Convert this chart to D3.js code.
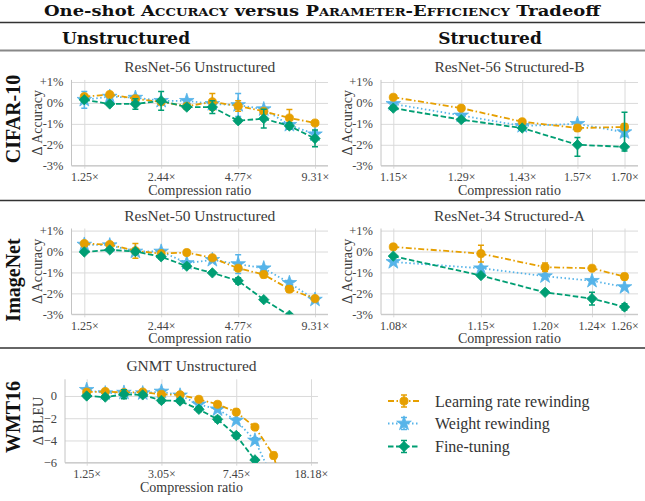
<!DOCTYPE html>
<html>
<head>
<meta charset="utf-8">
<script src="https://cdn.jsdelivr.net/npm/d3@7"></script>
<style>
  body { margin: 0; background: #fff; }
  text { font-family: "Liberation Serif", "Times New Roman", serif; }
</style>
</head>
<body>
<div id="chart"></div>
<script>
// compression ratios (x values)
const xUnstr = [1.25, 1.56, 1.95, 2.44, 3.05, 3.81, 4.77, 5.96, 7.45, 9.31];
const xStrB = [1.15, 1.29, 1.43, 1.57, 1.70];
const xStrA = [1.08, 1.145, 1.195, 1.233, 1.26];
const xGnmt = [1.25, 1.56, 1.95, 2.44, 3.05, 3.81, 4.77, 5.96, 7.45, 9.31, 11.64, 14.55];

// tick values and labels
const tickUnstr = [1.25, 2.44, 4.77, 9.31];
const tickUnstrLbl = ["1.25×", "2.44×", "4.77×", "9.31×"];
const tickStrB = [1.15, 1.29, 1.43, 1.57, 1.70];
const tickStrBLbl = ["1.15×", "1.29×", "1.43×", "1.57×", "1.70×"];
const tickStrA = [1.08, 1.145, 1.195, 1.233, 1.26];
const tickStrALbl = ["1.08×", "1.15×", "1.20×", "1.24×", "1.26×"];
const tickGnmt = [1.25, 3.05, 7.45, 18.18];
const tickGnmtLbl = ["1.25×", "3.05×", "7.45×", "18.18×"];
const tickAcc = [1, 0, -1, -2, -3];
const tickAccLbl = ["+1%", "0%", "-1%", "-2%", "-3%"];
const tickBleu = [0, -2, -4, -6];
const tickBleuLbl = ["0", "\u22122", "\u22124", "\u22126"];

// ResNet-56 unstructured (CIFAR-10)
const r56uLR = [0.3, 0.4, 0.2, 0.05, -0.16, 0.05, -0.15, -0.4, -0.72, -0.96];
const r56uLRErr = [0.08, 0.05, 0.1, 0.1, 0.1, 0.4, 0.25, 0.1, 0.4, 0.05];
const r56uWR = [0.15, 0.3, 0.25, 0.1, 0.1, -0.05, -0.1, -0.3, -1.05, -1.5];
const r56uWRErr = [0.4, 0.05, 0.1, 0.1, 0.08, 0.1, 0.55, 0.08, 0.1, 0.15];
const r56uFT = [0.15, -0.05, -0.05, 0.1, -0.2, -0.2, -0.85, -0.75, -1.1, -1.7];
const r56uFTErr = [0.1, 0.05, 0.25, 0.45, 0.1, 0.3, 0.1, 0.45, 0.15, 0.4];

// ResNet-56 structured-B (CIFAR-10)
const r56sLR = [0.27, -0.25, -0.9, -1.2, -1.15];
const r56sLRErr = [0.05, 0.05, 0.05, 0.15, 0.15];
const r56sWR = [-0.05, -0.6, -1.1, -1.0, -1.4];
const r56sWRErr = [0.05, 0.05, 0.05, 0.05, 0.2];
const r56sFT = [-0.25, -0.8, -1.2, -2.0, -2.1];
const r56sFTErr = [0.1, 0.08, 0.1, [0.55, 0.35], [0.2, 1.65]];

// ResNet-50 unstructured (ImageNet)
const r50uLR = [0.38, 0.33, 0.03, -0.1, -0.05, -0.3, -0.8, -1.1, -1.8, -2.25];
const r50uLRErr = [0.05, 0.05, 0.35, 0.08, 0.1, 0.08, 0.1, 0.15, 0.15, 0.05];
const r50uWR = [0.33, 0.3, 0.0, 0.0, -0.55, -0.4, -0.6, -0.8, -1.5, -2.3];
const r50uWRErr = [0.05, 0.05, 0.05, 0.1, 0.1, 0.08, 0.45, 0.1, 0.12, 0.08];
const r50uFT = [-0.02, 0.08, 0.0, -0.25, -0.7, -1.02, -1.4, -2.3, -3.05, -3.9];
const r50uFTErr = [0.05, 0.05, 0.1, 0.1, 0.1, 0.05, 0.15, 0.08, 0.08, 0.1];

// ResNet-34 structured-A (ImageNet)
const r34sLR = [0.22, -0.1, -0.75, -0.8, -1.2];
const r34sLRErr = [0.05, 0.4, 0.2, 0.05, 0.15];
const r34sWR = [-0.5, -0.8, -1.18, -1.4, -1.7];
const r34sWRErr = [0.05, 0.1, 0.1, 0.08, 0.08];
const r34sFT = [-0.22, -1.15, -1.95, -2.25, -2.65];
const r34sFTErr = [0.05, 0.08, 0.05, 0.3, 0.15];

// GNMT unstructured (WMT16), delta BLEU
const gnmtLR = [0.35, 0.4, 0.3, 0.35, 0.15, 0.1, -0.3, -0.75, -1.45, -2.8, -5.35, -12];
const gnmtLRErr = [0.2, 0.15, 0.15, 0.15, 0.15, 0.1, 0.1, 0.2, 0.25, 0.2, 0.3, 0.3];
const gnmtWR = [0.55, 0.25, 0.3, 0.25, 0.4, 0.05, -0.75, -1.2, -2.2, -4.0, -7.6];
const gnmtWRErr = [0.2, 0.2, 0.2, 0.15, 0.2, 0.15, 0.2, 0.2, 0.2, 0.25, 0.3];
const gnmtFT = [0.0, -0.1, 0.15, 0.1, -0.4, -0.45, -1.2, -2.1, -3.55, -5.75, -9.0];
const gnmtFTErr = [0.15, 0.15, 0.4, 0.15, 0.2, 0.2, 0.2, 0.25, 0.25, 0.2, 0.3];

const width = 645, height = 501;
const orange = "#E69F00", blue = "#56B4E9", green = "#009E73";
const styles = {
  lr: { color: orange, dash: "6,2.5,1.5,2.5", marker: "circle" },
  wr: { color: blue, dash: "1.5,2.5", marker: "star" },
  ft: { color: green, dash: "5.5,2.5", marker: "diamond" }
};

const svg = d3.select("#chart")
  .append("svg")
  .attr("width", width)
  .attr("height", height);

function markerPath(kind) {
  if (kind === "circle") return d3.symbol().type(d3.symbolCircle).size(52)();
  if (kind === "star") return d3.symbol().type(d3.symbolStar).size(66)();
  // square rotated 45 degrees
  const r = 5.2;
  return `M0,${-r}L${r},0L0,${r}L${-r},0Z`;
}

function drawSeries(g, x, y, xs, vals, errs, st) {
  const pts = vals.map((v, i) => {
    const e = errs[i];
    const lo = Array.isArray(e) ? e[0] : e;
    const hi = Array.isArray(e) ? e[1] : e;
    return { x: xs[i], v: v, lo: lo, hi: hi };
  });
  g.append("path")
    .datum(pts)
    .attr("d", d3.line().x(p => x(p.x)).y(p => y(p.v)))
    .attr("fill", "none")
    .attr("stroke", st.color)
    .attr("stroke-width", 1.8)
    .attr("stroke-dasharray", st.dash);
  const eb = g.selectAll(null).data(pts).enter().append("g")
    .attr("stroke", st.color)
    .attr("stroke-width", 1.5);
  eb.append("line")
    .attr("x1", p => x(p.x)).attr("x2", p => x(p.x))
    .attr("y1", p => y(p.v - p.lo)).attr("y2", p => y(p.v + p.hi));
  eb.append("line")
    .attr("x1", p => x(p.x) - 3).attr("x2", p => x(p.x) + 3)
    .attr("y1", p => y(p.v - p.lo)).attr("y2", p => y(p.v - p.lo));
  eb.append("line")
    .attr("x1", p => x(p.x) - 3).attr("x2", p => x(p.x) + 3)
    .attr("y1", p => y(p.v + p.hi)).attr("y2", p => y(p.v + p.hi));
  g.selectAll(null).data(pts).enter().append("path")
    .attr("d", markerPath(st.marker))
    .attr("transform", p => `translate(${x(p.x)},${y(p.v)})`)
    .attr("fill", st.color)
    .attr("stroke", st.color)
    .attr("stroke-width", 0.8);
}

let clipId = 0;
function panel(cfg) {
  const g = svg.append("g");
  const x = d3.scaleLog().domain([cfg.xt[0], cfg.xt[cfg.xt.length - 1]]).range(cfg.xr);
  const y = d3.scaleLinear().domain(cfg.yd).range([cfg.bottom, cfg.top]);
  const w = cfg.right - cfg.left, h = cfg.bottom - cfg.top;

  // x axis + vertical grid
  g.append("g")
    .attr("transform", `translate(0,${cfg.bottom})`)
    .call(d3.axisBottom(x).tickValues(cfg.xt).tickFormat((d, i) => cfg.xl[i]).tickSizeOuter(0).tickPadding(1))
    .call(a => a.select(".domain").remove())
    .call(a => a.selectAll(".tick line").attr("y1", 3).attr("y2", -h).attr("stroke", "#dadada").attr("stroke-width", 1))
    .call(a => a.selectAll(".tick text").attr("fill", "#444").style("font-size", "12px")
      .style("font-family", "'Liberation Serif', serif"));

  // y axis + horizontal grid
  g.append("g")
    .attr("transform", `translate(${cfg.left},0)`)
    .call(d3.axisLeft(y).tickValues(cfg.yt).tickFormat((d, i) => cfg.yl[i]).tickSizeOuter(0).tickPadding(2))
    .call(a => a.select(".domain").remove())
    .call(a => a.selectAll(".tick line").attr("x1", 0).attr("x2", w).attr("stroke", "#dadada").attr("stroke-width", 1))
    .call(a => a.selectAll(".tick text").attr("fill", "#444").style("font-size", "12.5px")
      .style("font-family", "'Liberation Serif', serif"));

  // spines
  g.append("line").attr("x1", cfg.left).attr("x2", cfg.left).attr("y1", cfg.top).attr("y2", cfg.bottom)
    .attr("stroke", "#c4c4c4").attr("stroke-width", 1);
  g.append("line").attr("x1", cfg.left).attr("x2", cfg.right).attr("y1", cfg.bottom).attr("y2", cfg.bottom)
    .attr("stroke", "#c4c4c4").attr("stroke-width", 1);

  const id = "clip" + (clipId++);
  svg.append("clipPath").attr("id", id)
    .append("rect").attr("x", cfg.left).attr("y", cfg.top).attr("width", w).attr("height", h);
  const data = g.append("g").attr("clip-path", `url(#${id})`);
  cfg.series.forEach(s => drawSeries(data, x, y, cfg.xs, s.vals, s.errs, styles[s.key]));

  // title and labels
  g.append("text").attr("x", (cfg.left + cfg.right) / 2).attr("y", cfg.top - 8)
    .attr("text-anchor", "middle").attr("fill", "#3a3a3a").style("font-size", "15.5px")
    .text(cfg.title);
  g.append("text").attr("x", (cfg.left + cfg.right) / 2).attr("y", cfg.bottom + 29)
    .attr("text-anchor", "middle").attr("fill", "#3a3a3a").style("font-size", "14px")
    .text("Compression ratio");
  g.append("text")
    .attr("transform", `translate(${cfg.left - cfg.ylabOff},${(cfg.top + cfg.bottom) / 2}) rotate(-90)`)
    .attr("text-anchor", "middle").attr("dy", "0.35em").attr("fill", "#3a3a3a").style("font-size", "14px")
    .text(cfg.ylab);
}

const accRow1 = { top: 79.9, bottom: 165.7, yd: [-3, 1.1], yt: tickAcc, yl: tickAccLbl, ylab: "\u0394 Accuracy", ylabOff: 34 };
const accRow2 = { top: 228.5, bottom: 314.3, yd: [-3, 1.1], yt: tickAcc, yl: tickAccLbl, ylab: "\u0394 Accuracy", ylabOff: 34 };

// blue first, orange over it, green on top
panel(Object.assign({}, accRow1, {
  left: 71.5, right: 328, xr: [84.3, 315], xt: tickUnstr, xl: tickUnstrLbl, xs: xUnstr,
  title: "ResNet-56 Unstructured",
  series: [{ key: "wr", vals: r56uWR, errs: r56uWRErr }, { key: "lr", vals: r56uLR, errs: r56uLRErr }, { key: "ft", vals: r56uFT, errs: r56uFTErr }]
}));
panel(Object.assign({}, accRow1, {
  left: 381, right: 638, xr: [393.3, 624.5], xt: tickStrB, xl: tickStrBLbl, xs: xStrB,
  title: "ResNet-56 Structured-B",
  series: [{ key: "wr", vals: r56sWR, errs: r56sWRErr }, { key: "lr", vals: r56sLR, errs: r56sLRErr }, { key: "ft", vals: r56sFT, errs: r56sFTErr }]
}));
panel(Object.assign({}, accRow2, {
  left: 71.5, right: 328, xr: [84.3, 315], xt: tickUnstr, xl: tickUnstrLbl, xs: xUnstr,
  title: "ResNet-50 Unstructured",
  series: [{ key: "wr", vals: r50uWR, errs: r50uWRErr }, { key: "lr", vals: r50uLR, errs: r50uLRErr }, { key: "ft", vals: r50uFT, errs: r50uFTErr }]
}));
panel(Object.assign({}, accRow2, {
  left: 381, right: 638, xr: [393.3, 624.5], xt: tickStrA, xl: tickStrALbl, xs: xStrA,
  title: "ResNet-34 Structured-A",
  series: [{ key: "wr", vals: r34sWR, errs: r34sWRErr }, { key: "lr", vals: r34sLR, errs: r34sLRErr }, { key: "ft", vals: r34sFT, errs: r34sFTErr }]
}));
panel({
  top: 379.3, bottom: 462.7, yd: [-6, 1.5], yt: tickBleu, yl: tickBleuLbl, ylab: "\u0394 BLEU", ylabOff: 27,
  left: 65, right: 318, xr: [86.7, 311], xt: tickGnmt, xl: tickGnmtLbl, xs: xGnmt,
  title: "GNMT Unstructured",
  series: [{ key: "wr", vals: gnmtWR, errs: gnmtWRErr }, { key: "lr", vals: gnmtLR, errs: gnmtLRErr }, { key: "ft", vals: gnmtFT, errs: gnmtFTErr }]
});

// header
const title = svg.append("text").attr("x", 322).attr("y", 16).attr("text-anchor", "middle")
  .attr("fill", "#111").style("font-size", "15px").style("font-weight", "bold")
  .style("font-family", "'DejaVu Serif', serif")
  .attr("textLength", 556).attr("lengthAdjust", "spacingAndGlyphs");
title.append("tspan").text("One-shot ");
title.append("tspan").style("font-variant", "small-caps").text("Accuracy");
title.append("tspan").text(" versus ");
title.append("tspan").style("font-variant", "small-caps").text("Parameter-Efficiency");
title.append("tspan").text(" Tradeoff");

svg.append("line").attr("x1", 0).attr("x2", width).attr("y1", 22.5).attr("y2", 22.5)
  .attr("stroke", "#333").attr("stroke-width", 1.6);
svg.append("line").attr("x1", 0).attr("x2", width).attr("y1", 50.5).attr("y2", 50.5)
  .attr("stroke", "#888").attr("stroke-width", 2);
svg.append("line").attr("x1", 0).attr("x2", width).attr("y1", 200.5).attr("y2", 200.5)
  .attr("stroke", "#333").attr("stroke-width", 1.6);
svg.append("line").attr("x1", 0).attr("x2", width).attr("y1", 348).attr("y2", 348)
  .attr("stroke", "#333").attr("stroke-width", 1.6);

const colHeads = ["Unstructured", "Structured"];
const colX = [126, 490];
svg.selectAll(null).data(colHeads).enter().append("text")
  .attr("x", (d, i) => colX[i]).attr("y", 43.5).attr("text-anchor", "middle")
  .attr("fill", "#111").style("font-size", "17px").style("font-weight", "bold")
  .style("font-family", "'DejaVu Serif', serif")
  .text(d => d);

const rowHeads = ["CIFAR-10", "ImageNet", "WMT16"];
const rowY = [119, 280, 417];
svg.selectAll(null).data(rowHeads).enter().append("text")
  .attr("transform", (d, i) => `translate(13,${rowY[i]}) rotate(-90)`)
  .attr("text-anchor", "middle").attr("dy", "0.35em")
  .attr("fill", "#111").style("font-size", "20px").style("font-weight", "bold")
  .text(d => d);

// legend
const legendNames = ["Learning rate rewinding", "Weight rewinding", "Fine-tuning"];
const legendKeys = ["lr", "wr", "ft"];
const legendY = [401, 423.5, 446.5];
const lg = svg.append("g");
legendKeys.forEach((k, i) => {
  const st = styles[k];
  const yy = legendY[i];
  lg.append("line").attr("x1", 388).attr("x2", 420).attr("y1", yy).attr("y2", yy)
    .attr("stroke", st.color).attr("stroke-width", 1.8).attr("stroke-dasharray", st.dash);
  lg.append("line").attr("x1", 404).attr("x2", 404).attr("y1", yy - 6).attr("y2", yy + 6)
    .attr("stroke", st.color).attr("stroke-width", 1.5);
  lg.append("line").attr("x1", 401).attr("x2", 407).attr("y1", yy - 6).attr("y2", yy - 6)
    .attr("stroke", st.color).attr("stroke-width", 1.5);
  lg.append("line").attr("x1", 401).attr("x2", 407).attr("y1", yy + 6).attr("y2", yy + 6)
    .attr("stroke", st.color).attr("stroke-width", 1.5);
  lg.append("path").attr("d", markerPath(st.marker)).attr("transform", `translate(404,${yy})`)
    .attr("fill", st.color).attr("stroke", st.color).attr("stroke-width", 0.8);
  lg.append("text").attr("x", 435).attr("y", yy).attr("dy", "0.35em")
    .attr("fill", "#333").style("font-size", "16px").text(legendNames[i]);
});
</script>
</body>
</html>
